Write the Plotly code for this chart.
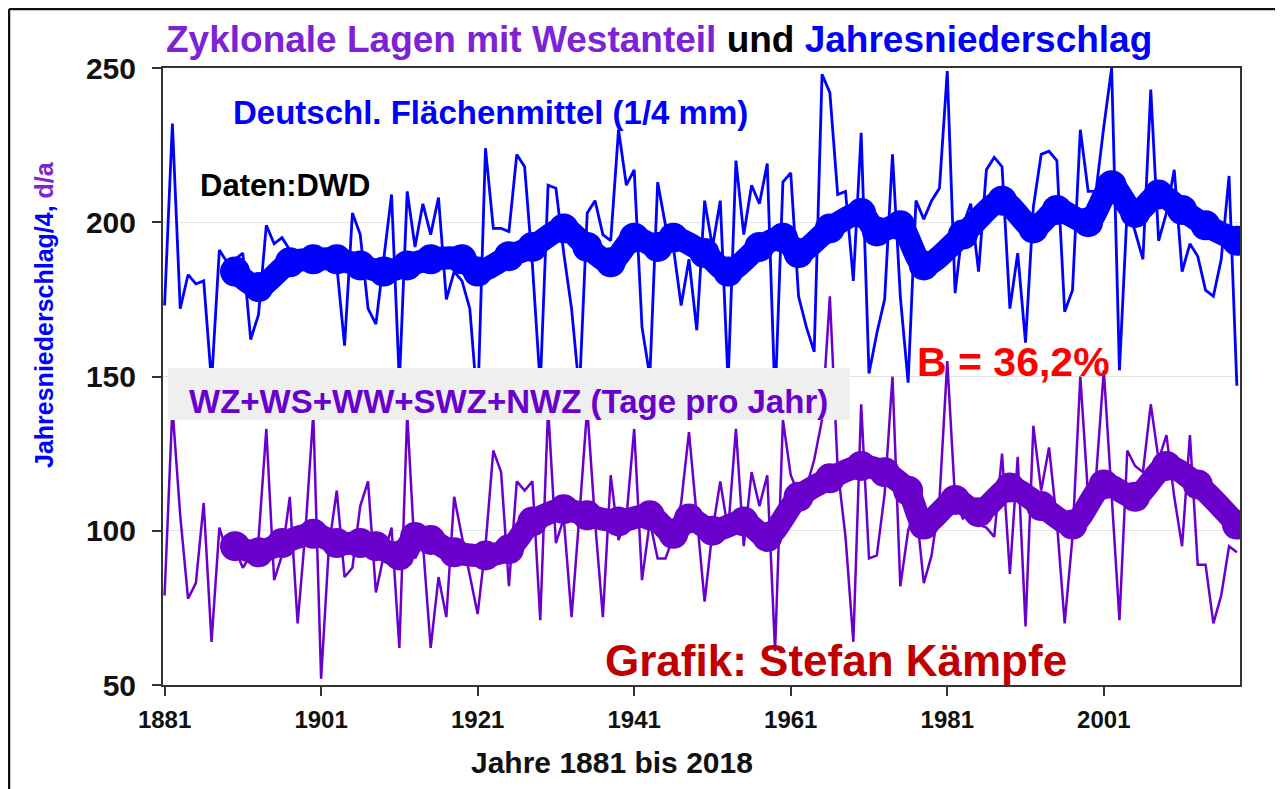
import plotly.graph_objects as go

years = list(range(1881, 2019))

precip_quarter = [
    173, 232, 172, 183, 180, 181, 148, 191, 187, 188,
    190, 162, 170, 199, 193, 195, 191, 188, 186, 192,
    185, 187, 186, 160, 203, 196, 172, 167, 188, 209,
    148, 210, 192, 206, 196, 208, 175, 184, 181, 172,
    140, 224, 198, 198, 197, 222, 218, 186, 147, 212,
    211, 190, 172, 145, 203, 207, 196, 194, 230, 212,
    217, 166, 150, 213, 199, 192, 173, 188, 165, 207,
    192, 207, 148, 220, 196, 212, 206, 219, 142, 213,
    216, 176, 166, 158, 248, 242, 209, 210, 181, 229,
    151, 164, 175, 222, 176, 148, 207, 201, 207, 211,
    249, 177, 199, 206, 184, 217, 221, 218, 172, 190,
    161, 205, 222, 223, 220, 171, 178, 230, 210, 210,
    231, 250, 152, 205, 197, 188, 243, 194, 203, 217,
    184, 193, 189, 178, 176, 188, 215, 147,
]

west_days = [
    79, 140, 105, 78, 83, 109, 64, 101, 93, 94,
    88, 92, 97, 133, 84, 92, 111, 70, 100, 138,
    52, 95, 113, 85, 88, 108, 116, 80, 92, 101,
    62, 138, 91, 96, 62, 85, 72, 111, 98, 86,
    73, 95, 126, 119, 82, 116, 113, 116, 71, 140,
    96, 104, 72, 105, 140, 103, 72, 118, 97, 104,
    133, 84, 103, 91, 91, 98, 109, 132, 104, 77,
    100, 116, 100, 133, 95, 119, 108, 118, 61, 136,
    118, 112, 114, 123, 136, 176, 120, 98, 64, 141,
    91, 92, 112, 150, 82, 100, 108, 83, 92, 110,
    155, 110, 104, 106, 102, 101, 98, 125, 86, 124,
    69, 134, 113, 127, 103, 70, 98, 150, 111, 117,
    152, 112, 71, 126, 121, 119, 141, 123, 131, 111,
    95, 131, 89, 89, 70, 79, 95, 93,
]

precip_trend_years = [1890, 1893, 1897, 1900, 1903, 1906, 1909, 1912, 1915, 1919,
                      1921, 1925, 1928, 1932, 1935, 1938, 1941, 1944, 1946, 1950,
                      1953, 1957, 1960, 1962, 1966, 1970, 1972, 1975, 1978, 1983,
                      1988, 1992, 1995, 1999, 2002, 2005, 2008, 2011, 2014, 2018]
precip_trend = [184, 179, 187, 188, 188, 186, 184, 186, 188, 188,
                184, 189, 192, 198, 192, 187, 195, 192, 195, 190,
                184, 192, 195, 190, 198, 203, 197, 199, 186, 196,
                207, 198, 204, 200, 212, 203, 209, 204, 199, 194]

west_trend_years = [1890, 1893, 1896, 1900, 1903, 1906, 1908, 1911, 1913, 1915,
                    1918, 1922, 1925, 1928, 1932, 1935, 1939, 1943, 1946, 1948,
                    1951, 1955, 1958, 1962, 1966, 1970, 1973, 1976, 1978, 1982,
                    1985, 1989, 1993, 1997, 2001, 2005, 2009, 2013, 2018]
west_trend = [95, 93, 96, 99, 96, 96, 95, 92, 98, 97,
              93, 92, 94, 103, 107, 105, 103, 105, 99, 104,
              100, 103, 98, 111, 117, 121, 119, 113, 102, 110,
              106, 114, 108, 102, 115, 111, 121, 115, 102]

x_ticks = [1881, 1901, 1921, 1941, 1961, 1981, 2001]
y_ticks = [50, 100, 150, 200, 250]

BLUE = "#0000ff"
PURPLE = "#6a00cc"
TITLE_PURPLE = "#7d22d4"
FONT = "Liberation Sans, Arial, sans-serif"

fig = go.Figure()
fig.add_trace(go.Scatter(x=years, y=precip_quarter, mode="lines",
                         line=dict(color=BLUE, width=2.8), hoverinfo="skip"))
fig.add_trace(go.Scatter(x=years, y=west_days, mode="lines",
                         line=dict(color=PURPLE, width=2.5), hoverinfo="skip"))
fig.add_trace(go.Scatter(x=precip_trend_years, y=precip_trend, mode="lines+markers",
                         line=dict(color=BLUE, width=23, shape="spline", smoothing=0.8),
                         marker=dict(color=BLUE, size=30), hoverinfo="skip"))
fig.add_trace(go.Scatter(x=west_trend_years, y=west_trend, mode="lines+markers",
                         line=dict(color=PURPLE, width=23, shape="spline", smoothing=0.8),
                         marker=dict(color=PURPLE, size=30), hoverinfo="skip"))

# page body has an 8px margin: figure coords = screen coords - 8
OFF = 8
W, H = 1283 - OFF, 789 - OFF
L, R, T, B = 163 - OFF, 1240 - OFF, 68 - OFF, 685 - OFF


def px(xs):
    return (xs - OFF - L) / (R - L)


def py(ys):
    return (B - (ys - OFF)) / (B - T)


fig.update_layout(
    width=W, height=H,
    margin=dict(l=L, r=W - R, t=T, b=H - B),
    paper_bgcolor="white", plot_bgcolor="white",
    showlegend=False,
    xaxis=dict(range=[1880.8, 2018.4], tickvals=x_ticks, ticktext=[str(v) for v in x_ticks],
               showgrid=False, zeroline=False, showline=True, mirror=True,
               linecolor="#333333", linewidth=2, ticks="outside", ticklen=9,
               tickcolor="#333333", tickwidth=2, ticklabelstandoff=3,
               tickfont=dict(family=FONT, size=24, color="#111111", weight="bold")),
    yaxis=dict(range=[50, 250], tickvals=y_ticks, ticktext=[str(v) for v in y_ticks],
               showgrid=True, gridcolor="#e4e4e4", gridwidth=1, zeroline=False,
               showline=True, mirror=True, linecolor="#333333", linewidth=2,
               ticks="outside", ticklen=9, tickcolor="#333333", tickwidth=2,
               ticklabelstandoff=10,
               tickfont=dict(family=FONT, size=30, color="#111111", weight="bold")),
)

# label box for the purple series
fig.add_shape(type="rect", xref="paper", yref="paper",
              x0=px(168), x1=px(850), y0=py(420), y1=py(368),
              fillcolor="#efefef", line=dict(width=0), layer="above")

# outer frame (left and top edges visible)
fig.add_shape(type="line", xref="paper", yref="paper",
              x0=px(9), x1=px(9), y0=py(800), y1=py(9),
              line=dict(color="#111111", width=2.5))
fig.add_shape(type="line", xref="paper", yref="paper",
              x0=px(9), x1=px(1300), y0=py(9), y1=py(9),
              line=dict(color="#111111", width=2.5))

ann = [
    dict(x=px(659), y=py(40),
         text=f'<span style="color:{TITLE_PURPLE}">Zyklonale Lagen mit Westanteil</span>'
              f' <span style="color:#000000">und</span> '
              f'<span style="color:{BLUE}">Jahresniederschlag</span>',
         font=dict(family=FONT, size=37, weight="bold")),
    dict(x=px(490), y=py(112), text="Deutschl. Flächenmittel (1/4 mm)",
         font=dict(family=FONT, size=33, color=BLUE, weight="bold")),
    dict(x=px(285), y=py(185), text="Daten:DWD",
         font=dict(family=FONT, size=31, color="#000000", weight="bold")),
    dict(x=px(508), y=py(401), text="WZ+WS+WW+SWZ+NWZ (Tage pro Jahr)",
         font=dict(family=FONT, size=33, color=PURPLE, weight="bold")),
    dict(x=px(1013), y=py(362), text="B = 36,2%",
         font=dict(family=FONT, size=41, color="#ff0000", weight="bold")),
    dict(x=px(836), y=py(660), text="Grafik: Stefan Kämpfe",
         font=dict(family=FONT, size=44, color="#c00000", weight="bold")),
    dict(x=px(612), y=py(762), text="Jahre 1881 bis 2018",
         font=dict(family=FONT, size=30, color="#111111", weight="bold")),
    dict(x=px(44), y=py(315), textangle=-90,
         text=f'<span style="color:{BLUE}">Jahresniederschlag/4, </span>'
              f'<span style="color:{TITLE_PURPLE}">d/a</span>',
         font=dict(family=FONT, size=25, weight="bold")),
]
for a in ann:
    fig.add_annotation(xref="paper", yref="paper", showarrow=False,
                       xanchor="center", yanchor="middle", **a)

fig.write_html("out.html")
